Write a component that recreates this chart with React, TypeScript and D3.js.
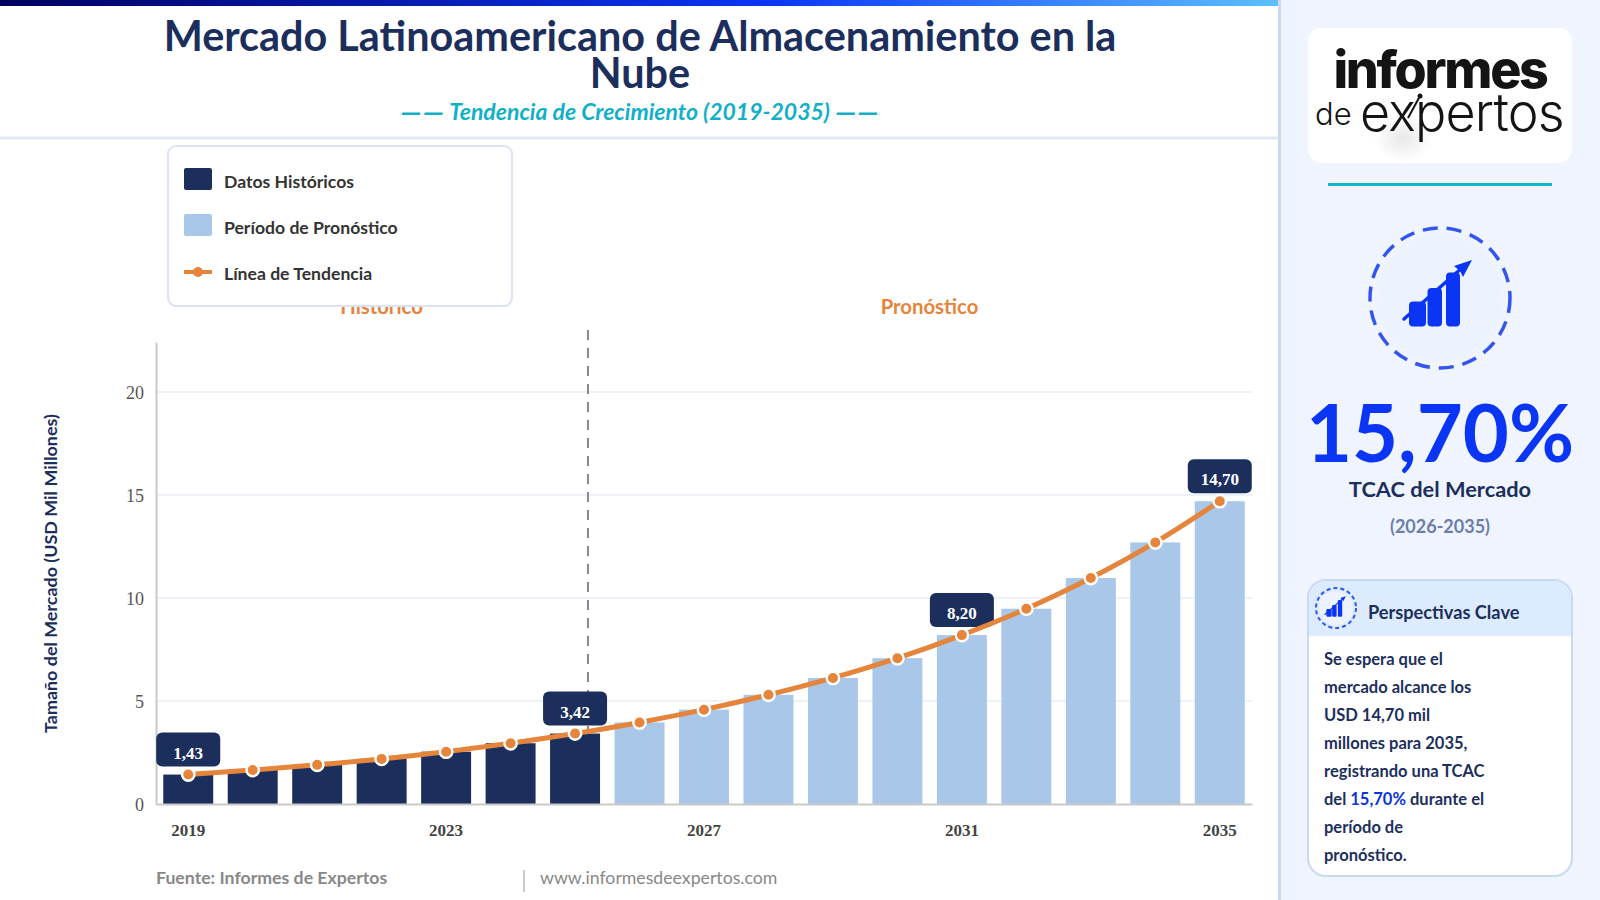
import React, { useEffect, useRef } from 'react'
import * as d3 from 'd3'

const years = [2019, 2020, 2021, 2022, 2023, 2024, 2025, 2026, 2027, 2028, 2029, 2030, 2031, 2032, 2033, 2034, 2035]
const marketValues = [1.43, 1.65, 1.9, 2.19, 2.54, 2.95, 3.42, 3.96, 4.58, 5.3, 6.12, 7.08, 8.2, 9.48, 10.97, 12.7, 14.7]
const lastHistoricalYear = 2025
const calloutYears = [2019, 2025, 2031, 2035]
const xTickYears = [2019, 2023, 2027, 2031, 2035]
const yTickValues = [0, 5, 10, 15, 20]
const legendLabels = ['Datos Históricos', 'Período de Pronóstico', 'Línea de Tendencia']
const insightLines = ['Se espera que el', 'mercado alcance los', 'USD 14,70 mil', 'millones para 2035,', 'registrando una TCAC', 'del |15,70%| durante el', 'período de', 'pronóstico.']

const NAVY = '#1c2f5c'
const LIGHT_BAR = '#a9c7e8'
const ORANGE = '#e5843b'
const BLUE = '#0a35f5'
const SANS = 'Lato, sans-serif'
const SERIF = '"Liberation Serif", serif'

const margin = { left: 156, right: 1252, top: 342, bottom: 804 }

const x = d3
  .scaleBand<number>()
  .domain(years)
  .range([margin.left, margin.right])
  .paddingInner(0.225)
  .paddingOuter(0.1125)
const y = d3.scaleLinear().domain([0, 22.43]).range([margin.bottom, margin.top])
const cx = (year: number) => (x(year) as number) + x.bandwidth() / 2
const decimal = (v: number) => v.toFixed(2).replace('.', ',')

const rows = years.map((year, i) => ({ year, value: marketValues[i] }))
const trendLine = d3
  .line<{ year: number; value: number }>()
  .x(d => cx(d.year))
  .y(d => y(d.value))
  .curve(d3.curveMonotoneX)

const TrendIcon = ({ tx, ty, scale }: { tx: number; ty: number; scale: number }) => (
  <g transform={`translate(${tx},${ty}) scale(${scale})`} fill={BLUE}>
    <rect x={-31} y={3.5} width={17} height={25} rx={4} />
    <rect x={-12.5} y={-10} width={14.5} height={38.5} rx={4} />
    <rect x={6} y={-25.5} width={14} height={54} rx={4} />
    <path d="M-36 21 L23 -31" stroke={BLUE} strokeWidth={3.5} strokeLinecap="round" fill="none" />
    <path d="M32 -38 L14 -32 L20 -27 L23 -21 Z" />
  </g>
)

const App = (): JSX.Element => {
  const yAxisRef = useRef<SVGGElement>(null)
  const xAxisRef = useRef<SVGGElement>(null)

  useEffect(() => {
    const yAxis = d3.axisLeft(y).tickValues(yTickValues).tickSize(0).tickPadding(12)
    d3.select(yAxisRef.current as SVGGElement).call(g => {
      g.call(yAxis)
      g.select('.domain').attr('stroke', '#c9c9c9').attr('stroke-width', 2)
      g.selectAll('.tick text')
        .attr('fill', '#555')
        .attr('font-family', SERIF)
        .attr('font-size', 18)
        .attr('dy', '0.34em')
    })
    const xAxis = d3.axisBottom(x).tickValues(xTickYears).tickSize(0).tickPadding(20)
    d3.select(xAxisRef.current as SVGGElement).call(g => {
      g.call(xAxis)
      g.select('.domain').attr('stroke', '#c9c9c9').attr('stroke-width', 2)
      g.selectAll('.tick text')
        .attr('fill', '#444')
        .attr('font-family', SERIF)
        .attr('font-weight', 700)
        .attr('font-size', 17)
    })
  }, [])

  const dividerX = cx(lastHistoricalYear) + x.step() * 0.2

  return (
    <svg
      width={1600}
      height={900}
      viewBox="0 0 1600 900"
      style={{ position: 'absolute', left: 0, top: 0, display: 'block', background: '#fff' }}
      fontFamily={SANS}
    >
      <defs>
        <linearGradient id="topBar">
          <stop offset="0" stopColor="#000060" />
          <stop offset="0.6" stopColor="#0a35f5" />
          <stop offset="1" stopColor="#5cc0ff" />
        </linearGradient>
        <radialGradient id="logoShade">
          <stop offset="0" stopColor="#000" stopOpacity={0.09} />
          <stop offset="1" stopColor="#000" stopOpacity={0} />
        </radialGradient>
      </defs>

      {/* header */}
      <rect x={0} y={0} width={1278} height={6} fill="url(#topBar)" />
      <g textAnchor="middle" fill={NAVY} fontWeight={700} fontSize={41.4}>
        <text x={640} y={50.5}>Mercado Latinoamericano de Almacenamiento en la</text>
        <text x={640} y={88}>Nube</text>
      </g>
      <text x={640} y={120} textAnchor="middle" fill="#12b0c8" fontWeight={700} fontStyle="italic" fontSize={23}>
        <tspan fontSize={29} letterSpacing={1} dy={1.5}>——</tspan>
        <tspan dy={-1.5}> Tendencia de Crecimiento (2019-2035) </tspan>
        <tspan fontSize={29} letterSpacing={1} dy={1.5}>——</tspan>
      </text>
      <line x1={0} x2={1278} y1={138} y2={138} stroke="#e2e9f5" strokeWidth={3} />

      {/* chart */}
      <text x={381.5} y={314} textAnchor="middle" fill={ORANGE} fontWeight={700} fontSize={20.3}>Histórico</text>
      <text x={929.5} y={314} textAnchor="middle" fill={ORANGE} fontWeight={700} fontSize={20.3}>Pronóstico</text>
      <text
        transform={`translate(57,573.5) rotate(-90)`}
        textAnchor="middle"
        fill={NAVY}
        fontWeight={700}
        fontSize={17.9}
      >
        Tamaño del Mercado (USD Mil Millones)
      </text>

      {yTickValues.filter(t => t > 0).map(t => (
        <line key={t} x1={margin.left} x2={margin.right} y1={y(t)} y2={y(t)} stroke="#eef1f7" strokeWidth={2} />
      ))}
      <line x1={dividerX} x2={dividerX} y1={330} y2={margin.bottom} stroke="#888" strokeWidth={2} strokeDasharray="10 8" />

      {rows.map(d => (
        <rect
          key={d.year}
          x={x(d.year)}
          y={y(d.value)}
          width={x.bandwidth()}
          height={y(0) - y(d.value)}
          fill={d.year <= lastHistoricalYear ? NAVY : LIGHT_BAR}
        />
      ))}
      <g ref={yAxisRef} transform={`translate(${margin.left},0)`} />
      <g ref={xAxisRef} transform={`translate(0,${margin.bottom})`} />

      {rows.filter(d => calloutYears.includes(d.year)).map(d => (
        <g key={d.year} transform={`translate(${cx(d.year)},${y(d.value)})`}>
          <rect x={-32} y={-42} width={64} height={34} rx={6} fill={NAVY} />
          <text y={-16} textAnchor="middle" fill="#fff" fontFamily={SERIF} fontWeight={700} fontSize={17}>
            {decimal(d.value)}
          </text>
        </g>
      ))}
      <path d={trendLine(rows) as string} fill="none" stroke={ORANGE} strokeWidth={5} strokeLinecap="round" />
      {rows.map(d => (
        <circle key={d.year} cx={cx(d.year)} cy={y(d.value)} r={6.2} fill={ORANGE} stroke="#fff" strokeWidth={2.4} />
      ))}

      {/* legend */}
      <rect x={168} y={146} width={344} height={160} rx={8} fill="#fff" stroke="#dbe3f2" strokeWidth={2} />
      <rect x={184} y={168} width={28} height={22} rx={2} fill={NAVY} />
      <rect x={184} y={214} width={28} height={22} rx={2} fill={LIGHT_BAR} />
      <line x1={184} x2={212} y1={272} y2={272} stroke={ORANGE} strokeWidth={4} />
      <circle cx={198} cy={272} r={5} fill={ORANGE} />
      {legendLabels.map((label, i) => (
        <text key={label} x={224} y={188 + i * 46} fill="#333" fontWeight={700} fontSize={17.6}>{label}</text>
      ))}

      {/* footer */}
      <text x={156} y={884} fill="#888" fontWeight={700} fontSize={17.7}>Fuente: Informes de Expertos</text>
      <line x1={524} x2={524} y1={870} y2={892} stroke="#ccc" strokeWidth={2} />
      <text x={540} y={884} fill="#888" fontSize={17.7}>www.informesdeexpertos.com</text>

      {/* side panel */}
      <rect x={1278} y={0} width={322} height={900} fill="#eff4ff" />
      <rect x={1278} y={0} width={3} height={900} fill="#c9d9f2" />
      <rect x={1308} y={28} width={264} height={135} rx={14} fill="#fff" />
      <ellipse cx={1403} cy={138} rx={30} ry={24} fill="url(#logoShade)" />
      <text x={1440} y={88} textAnchor="middle" fontFamily="Inter, sans-serif" fontWeight={800} fontSize={52} letterSpacing={-2.3} fill="#141414">informes</text>
      <text x={1315} y={125} fontFamily="Inter, sans-serif" fontWeight={300} fontSize={31} fill="#141414">de</text>
      <text x={1360} y={131} fontFamily="Inter, sans-serif" fontWeight={300} fontSize={52} letterSpacing={-0.8} fill="#141414">expertos</text>
      <path d="M1408 118 L1420 96" stroke="#141414" strokeWidth={2} />
      <circle cx={1420} cy={96} r={2.5} fill="#141414" />
      <rect x={1328} y={183} width={224} height={3} fill="#17b6cd" />

      <circle cx={1440} cy={298} r={63} fill="#edf2ff" />
      <circle cx={1440} cy={298} r={70} fill="none" stroke="#3355ee" strokeWidth={3.5} strokeDasharray="15 9" />
      <TrendIcon tx={1440} ty={298} scale={1} />

      <text x={1440} y={461.5} textAnchor="middle" fill={BLUE} fontWeight={700} fontSize={79.5}>15,70%</text>
      <text x={1440} y={497} textAnchor="middle" fill={NAVY} fontWeight={700} fontSize={21.8}>TCAC del Mercado</text>
      <text x={1440} y={533} textAnchor="middle" fill="#6b7fa8" fontWeight={700} fontSize={18}>(2026-2035)</text>

      <rect x={1308} y={580} width={264} height={296} rx={18} fill="#fff" stroke="#c9d9f2" strokeWidth={2} />
      <path d="M1309 636 V598 a17 17 0 0 1 17 -17 H1554 a17 17 0 0 1 17 17 V636 Z" fill="#dcebfd" />
      <circle cx={1336} cy={608} r={17} fill="#edf2ff" />
      <circle cx={1336} cy={608} r={20} fill="none" stroke="#3355ee" strokeWidth={2} strokeDasharray="4 3" />
      <TrendIcon tx={1336} ty={608} scale={0.31} />
      <text x={1368} y={618.5} fill={NAVY} fontWeight={700} fontSize={18.2}>Perspectivas Clave</text>
      {insightLines.map((line, i) => (
        <text key={i} x={1324} y={664.5 + i * 28} fill={NAVY} fontWeight={700} fontSize={16.5}>
          {line.split('|').map((part, j) => (
            <tspan key={j} fill={j === 1 ? '#0a35d8' : NAVY}>{part}</tspan>
          ))}
        </text>
      ))}
    </svg>
  )
}

export default App
